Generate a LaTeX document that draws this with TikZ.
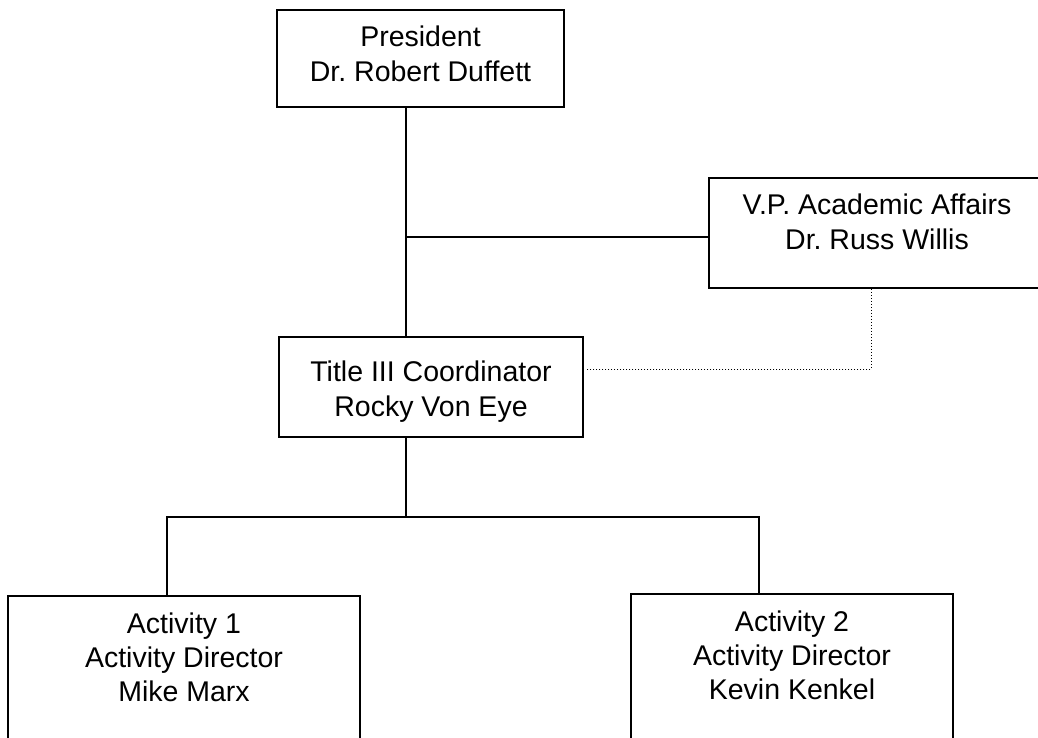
\documentclass[tikz,border=0pt]{standalone}
\usepackage{fontspec}
\setmainfont{Liberation Sans}
\frenchspacing
\begin{document}
\begin{tikzpicture}[x=1pt,y=-1pt,
  box/.style={draw, line width=1.5pt, inner sep=0pt},
  lbl/.style={font=\fontsize{28.5}{35}\selectfont\frenchspacing, align=center, inner sep=0pt, anchor=north},
  link/.style={line width=1.5pt},
  dotlink/.style={line width=1pt, dash pattern=on 1pt off 2pt}]
\useasboundingbox (0,0) rectangle (1038,737);
% boxes
\node[box, minimum width=287pt, minimum height=97pt]  (pres)  at (420.5,58.5) {};
\node[box, minimum width=336pt, minimum height=110pt] (vp)    at (877,233) {};
\node[box, minimum width=304pt, minimum height=100pt] (title) at (431,387) {};
\node[box, minimum width=352pt, minimum height=184pt] (a1)    at (184,688) {};
\node[box, minimum width=322pt, minimum height=186pt] (a2)    at (792,687) {};
% labels
\node[lbl] (presT)  at (420.5,26) {President\\Dr. Robert Duffett};
\node[lbl] (vpT)    at (877,194)  {V.P. Academic Affairs\\Dr. Russ Willis};
\node[lbl] (titleT) at (431,361)  {Title III Coordinator\\Rocky Von Eye};
\node[lbl, font=\fontsize{28.5}{34}\selectfont] (a1T) at (184,613) {Activity 1\\Activity Director\\Mike Marx};
\node[lbl, font=\fontsize{28.5}{34}\selectfont] (a2T) at (792,611) {Activity 2\\Activity Director\\Kevin Kenkel};
% junction coordinates
\coordinate (spine) at (406,0);
\coordinate (vpj)   at (0,237);
\coordinate (dotx)  at (871,0);
\coordinate (doty)  at (0,369);
\coordinate (j1)    at (167,517);
\coordinate (j2)    at (759,517);
% connectors
\draw[link] (pres.south -| spine) -- (title.north -| spine);
\draw[link] (spine |- vpj) -- (vp.west |- vpj);
\draw[dotlink] (vp.south -| dotx) |- ([xshift=2pt]title.east |- doty);
\draw[link] (title.south -| spine) -- (spine |- j1);
\draw[link] (a1.north -| j1) -- (j1) -- (j2) -- (a2.north -| j2);
\end{tikzpicture}
\end{document}
